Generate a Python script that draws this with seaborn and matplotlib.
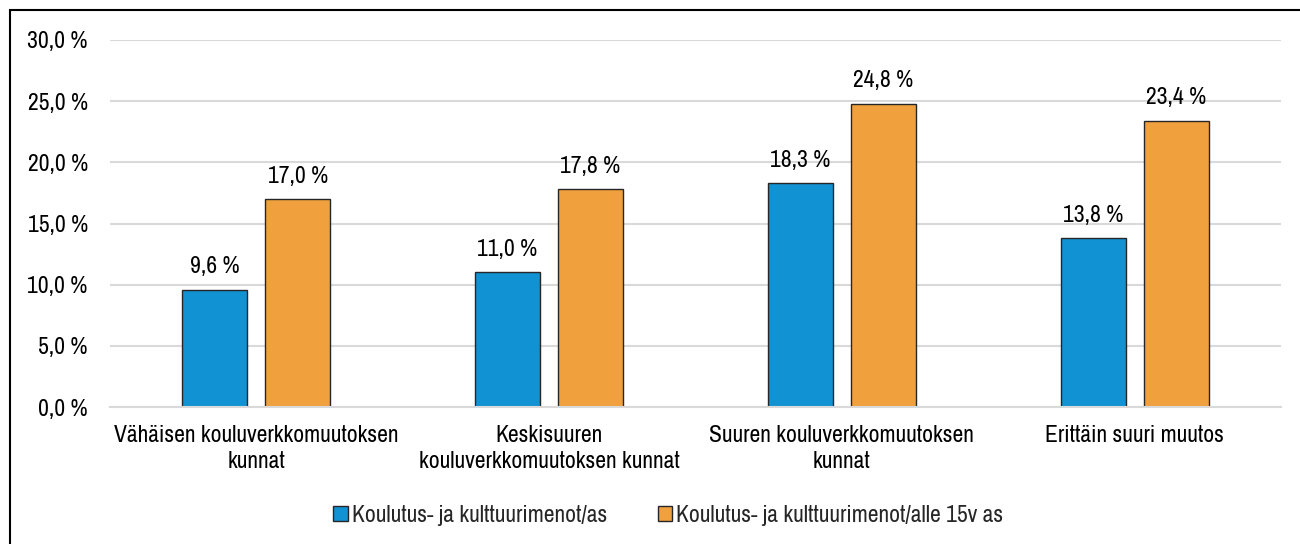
import matplotlib
matplotlib.use("Agg")
import matplotlib.pyplot as plt
import seaborn as sns
import pandas as pd
from matplotlib.patches import Rectangle, Patch
from matplotlib.ticker import FuncFormatter, MultipleLocator

categories = ["Vähäisen kouluverkkomuutoksen\nkunnat",
              "Keskisuuren\nkouluverkkomuutoksen kunnat",
              "Suuren kouluverkkomuutoksen\nkunnat",
              "Erittäin suuri muutos"]
series_names = ["Koulutus- ja kulttuurimenot/as",
                "Koulutus- ja kulttuurimenot/alle 15v as"]
values_as = [9.6, 11.0, 18.3, 13.8]
values_u15 = [17.0, 17.8, 24.8, 23.4]
colors = ["#1192D3", "#F0A03C"]

df = pd.DataFrame({
    "cat": categories * 2,
    "series": [series_names[0]] * 4 + [series_names[1]] * 4,
    "val": values_as + values_u15,
})

sns.set_style("white")
plt.rcParams['font.family'] = ['Archivo Narrow', 'Liberation Sans', 'DejaVu Sans']
FS = 17

fig = plt.figure(figsize=(13, 5.44), dpi=100)
ax = fig.add_axes([0.0846, 0.2518, 0.9008, 0.6747])

sns.barplot(data=df, x="cat", y="val", hue="series", palette=colors, saturation=1,
            width=0.567, gap=0.217, edgecolor="#262626", linewidth=1.0,
            ax=ax, legend=False)

for cont in ax.containers:
    ax.bar_label(cont, labels=[f"{v:.1f} %".replace(".", ",") for v in cont.datavalues],
                 padding=9, fontsize=FS, color="#000000")

ax.set_ylim(0, 30)
ax.set_xlim(-0.5, 3.5)
ax.yaxis.set_major_locator(MultipleLocator(5))
ax.yaxis.set_major_formatter(FuncFormatter(lambda v, p: f"{v:.1f} %".replace(".", ",")))
ax.grid(axis="y", color="#D9D9D9", linewidth=1.5)
ax.set_axisbelow(True)
for s in ["left", "right", "top"]:
    ax.spines[s].set_visible(False)
ax.spines["bottom"].set_color("#D9D9D9")
ax.spines["bottom"].set_linewidth(1.5)
ax.tick_params(axis="both", length=0, labelsize=FS, colors="#000000")
ax.tick_params(axis="y", pad=16)
ax.tick_params(axis="x", pad=13)
ax.set_xlabel("")
ax.set_ylabel("")
for t in ax.get_xticklabels():
    t.set_linespacing(1.3)

handles = [Patch(facecolor=colors[i], edgecolor="#262626", linewidth=1.0, label=series_names[i]) for i in range(2)]
fig.legend(handles=handles, loc="center", bbox_to_anchor=(0.514, 0.053), ncol=2,
           frameon=False, fontsize=FS, handlelength=0.6, handleheight=0.6,
           handletextpad=0.17, columnspacing=2.15)

fig.patches.append(Rectangle((10 / 1300, -0.1), 1.2, 1.1 - 10 / 544,
                             transform=fig.transFigure, fill=False,
                             edgecolor="black", linewidth=1.5))

fig.savefig("out.png", dpi=100)
